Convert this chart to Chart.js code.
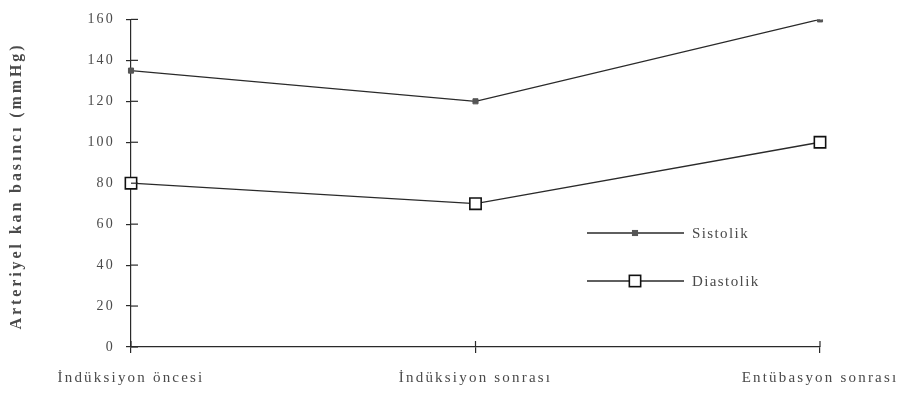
<!DOCTYPE html>
<html>
<head>
<meta charset="utf-8">
<script src="https://cdn.jsdelivr.net/npm/chart.js@4"></script>
<style>
html,body{margin:0;padding:0;background:#fff;}
#wrap{width:903px;height:393px;}
</style>
</head>
<body>
<div id="wrap"><canvas id="c" width="903" height="393"></canvas></div>
<script>
const categories = ["İndüksiyon öncesi", "İndüksiyon sonrası", "Entübasyon sonrası"];
const sistolik = [135, 120, 160];
const diastolik = [80, 70, 100];
const yTicks = [0, 20, 40, 60, 80, 100, 120, 140, 160];
const seriesNames = ["Sistolik", "Diastolik"];
const yTitle = "Arteriyel kan basıncı (mmHg)";

const FONT = "'Liberation Serif', 'DejaVu Serif', serif";
const TEXT = "#4a4a4a";
const LINE = "#2a2a2a";

const spacing = {
  id: 'spacing',
  beforeDraw(chart) { chart.ctx.letterSpacing = "2.2px"; },
  beforeDatasetsDraw(chart) { chart.ctx.letterSpacing = "0px"; }
};

const crossTicks = {
  id: 'crossTicks',
  afterDraw(chart) {
    const ctx = chart.ctx;
    const x = chart.scales.x, y = chart.scales.y;
    ctx.save();
    ctx.strokeStyle = LINE;
    ctx.lineWidth = 1.2;
    y.ticks.forEach((t, i) => {
      const py = y.getPixelForTick(i);
      ctx.beginPath(); ctx.moveTo(x.left, py); ctx.lineTo(x.left + 7, py); ctx.stroke();
    });
    x.ticks.forEach((t, i) => {
      const px = x.getPixelForTick(i);
      ctx.beginPath(); ctx.moveTo(px, y.bottom); ctx.lineTo(px, y.bottom - 6); ctx.stroke();
    });
    ctx.fillStyle = TEXT;
    ctx.font = "bold 16px " + FONT;
    ctx.letterSpacing = "2.9px";
    ctx.translate(17, 186);
    ctx.rotate(-Math.PI / 2);
    ctx.textAlign = "center";
    ctx.textBaseline = "middle";
    ctx.fillText(yTitle, 0, 0);
    ctx.restore();

    ctx.save();
    const rows = [233, 281];
    chart.data.datasets.forEach((ds, i) => {
      const ly = rows[i];
      ctx.strokeStyle = ds.borderColor;
      ctx.lineWidth = ds.borderWidth;
      ctx.beginPath(); ctx.moveTo(587, ly); ctx.lineTo(684, ly); ctx.stroke();
      ctx.fillStyle = ds.pointBackgroundColor;
      ctx.strokeStyle = ds.pointBorderColor;
      ctx.lineWidth = ds.pointBorderWidth;
      const s = ds.pointRadius * Math.SQRT1_2;
      ctx.fillRect(635 - s, ly - s, 2 * s, 2 * s);
      ctx.strokeRect(635 - s, ly - s, 2 * s, 2 * s);
      ctx.fillStyle = TEXT;
      ctx.font = "15px " + FONT;
      ctx.letterSpacing = "1.4px";
      ctx.textBaseline = "middle";
      ctx.textAlign = "left";
      ctx.fillText(ds.label, 692, ly + 1);
    });
    ctx.restore();
  }
};

new Chart(document.getElementById('c'), {
  type: 'line',
  data: {
    labels: categories,
    datasets: [
      {
        label: seriesNames[0], data: sistolik,
        borderColor: LINE, borderWidth: 1.3,
        pointStyle: 'rect', pointRadius: 3.6,
        pointBackgroundColor: '#555', pointBorderColor: '#555', pointBorderWidth: 1,
        tension: 0
      },
      {
        label: seriesNames[1], data: diastolik,
        borderColor: LINE, borderWidth: 1.3,
        pointStyle: 'rect', pointRadius: 8,
        pointBackgroundColor: '#fff', pointBorderColor: '#111', pointBorderWidth: 1.6,
        tension: 0
      }
    ]
  },
  options: {
    responsive: false,
    animation: false,
    layout: { padding: { top: 11, right: 83, left: 0, bottom: 0 } },
    plugins: { legend: { display: false }, tooltip: { enabled: false } },
    scales: {
      x: {
        type: 'category', offset: false,
        afterFit(s) { s.height = 46; },
        border: { display: true, color: LINE, width: 1.2 },
        grid: { display: true, drawOnChartArea: false, drawTicks: true, tickLength: 6, color: LINE, lineWidth: 1.2 },
        ticks: { color: TEXT, font: { family: FONT, size: 15 }, padding: 16, maxRotation: 0, autoSkip: false }
      },
      y: {
        min: 0, max: 160,
        afterFit(s) { s.width = 131; },
        afterBuildTicks(s) { s.ticks = yTicks.map(v => ({ value: v })); },
        border: { display: true, color: LINE, width: 1.2 },
        grid: { display: true, drawOnChartArea: false, drawTicks: true, tickLength: 5, color: LINE, lineWidth: 1.2 },
        ticks: { color: TEXT, font: { family: FONT, size: 14 }, padding: 11 }
      }
    }
  },
  plugins: [spacing, crossTicks]
});
</script>
</body>
</html>
